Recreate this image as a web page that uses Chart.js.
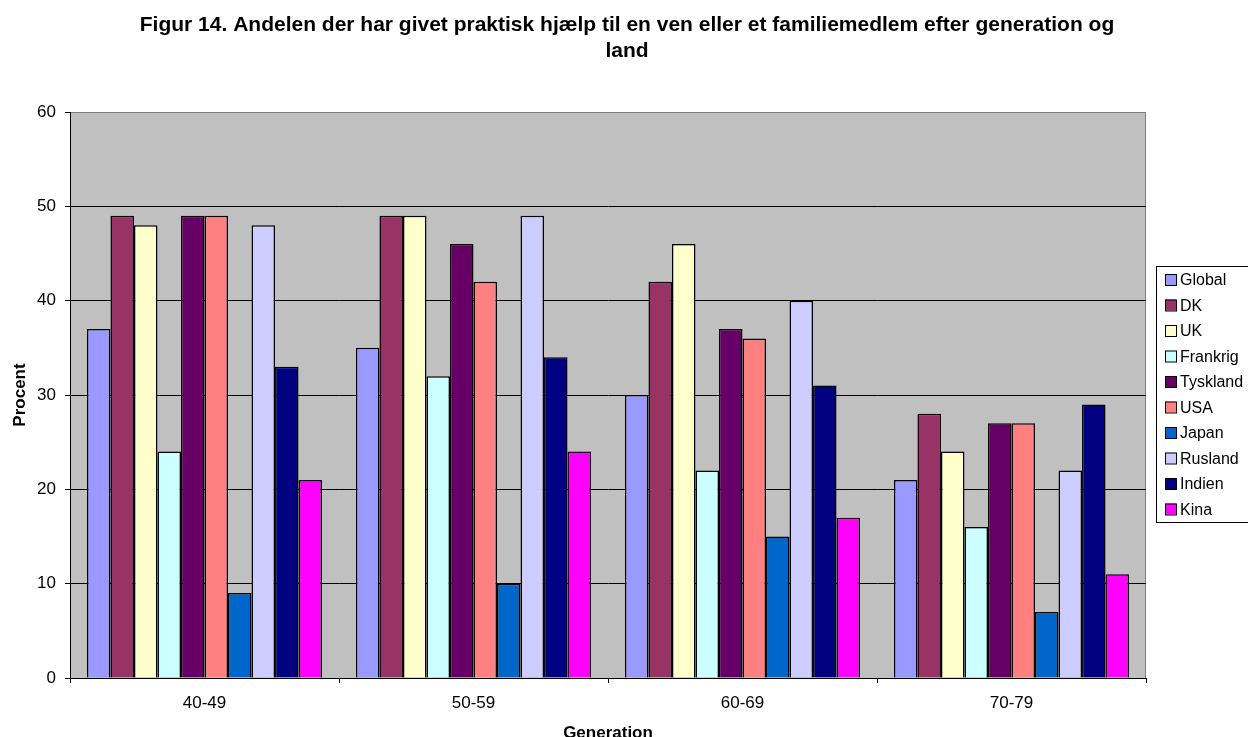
<!DOCTYPE html>
<html lang="da">
<head>
<meta charset="UTF-8">
<title>Figur 14</title>
<script src="https://cdn.jsdelivr.net/npm/chart.js"></script>
<style>
  html, body { margin: 0; padding: 0; background: #fff; }
  #wrap { width: 1248px; height: 737px; position: relative; }
</style>
</head>
<body>
<div id="wrap"><canvas id="chart"></canvas></div>
<script>
// data
const generationer = ['40-49', '50-59', '60-69', '70-79'];
const lande = ['Global', 'DK', 'UK', 'Frankrig', 'Tyskland', 'USA', 'Japan', 'Rusland', 'Indien', 'Kina'];
const farver = ['#9999FF', '#993366', '#FFFFCC', '#CCFFFF', '#660066', '#FF8080', '#0066CC', '#CCCCFF', '#000080', '#FF00FF'];
const global   = [37, 35, 30, 21];
const dk       = [49, 49, 42, 28];
const uk       = [48, 49, 46, 24];
const frankrig = [24, 32, 22, 16];
const tyskland = [49, 46, 37, 27];
const usa      = [49, 42, 36, 27];
const japan    = [9, 10, 15, 7];
const rusland  = [48, 49, 40, 22];
const indien   = [33, 34, 31, 29];
const kina     = [21, 24, 17, 11];
const yTicks   = [0, 10, 20, 30, 40, 50, 60];

const titelLinjer = ['Figur 14. Andelen der har givet praktisk hjælp til en ven eller et familiemedlem efter generation og', 'land'];
const xTitel = 'Generation';
const yTitel = 'Procent';

const serier = [global, dk, uk, frankrig, tyskland, usa, japan, rusland, indien, kina];
const font = 'Arial, "Liberation Sans", sans-serif';

// grå baggrund i plotområdet
const baggrund = {
  id: 'baggrund',
  beforeDraw(chart) {
    const { ctx, chartArea: a } = chart;
    ctx.save();
    ctx.fillStyle = '#C0C0C0';
    ctx.fillRect(a.left, a.top, a.right - a.left, a.bottom - a.top);
    ctx.strokeStyle = '#808080';
    ctx.lineWidth = 1;
    ctx.beginPath();
    ctx.moveTo(a.left, a.top + 0.5);
    ctx.lineTo(a.right - 0.5, a.top + 0.5);
    ctx.lineTo(a.right - 0.5, a.bottom);
    ctx.stroke();
    ctx.restore();
  }
};

// titler og legende tegnes selv for at ramme placeringen
const tekster = {
  id: 'tekster',
  afterDraw(chart) {
    const ctx = chart.ctx;
    const a = chart.chartArea;
    ctx.save();
    ctx.fillStyle = '#000';
    ctx.textAlign = 'center';
    ctx.textBaseline = 'alphabetic';
    ctx.font = 'bold 21px ' + font;
    titelLinjer.forEach((t, i) => ctx.fillText(t, 627, 31 + i * 26));

    // aksetitler
    ctx.font = 'bold 17px ' + font;
    ctx.fillText(xTitel, (a.left + a.right) / 2, 738);
    ctx.save();
    ctx.translate(25, (a.top + a.bottom) / 2);
    ctx.rotate(-Math.PI / 2);
    ctx.fillText(yTitel, 0, 0);
    ctx.restore();

    // legende
    const lx = 1156, ly = 266, lh = 25.5;
    ctx.fillStyle = '#fff';
    ctx.fillRect(lx, ly, 110, 256);
    ctx.strokeStyle = '#000';
    ctx.lineWidth = 1;
    ctx.strokeRect(lx + 0.5, ly + 0.5, 110, 256);
    ctx.font = '16px ' + font;
    ctx.textAlign = 'left';
    ctx.textBaseline = 'middle';
    lande.forEach((navn, i) => {
      const y = 280 + i * lh;
      ctx.fillStyle = farver[i];
      ctx.fillRect(lx + 9, y - 6, 11, 11);
      ctx.strokeStyle = '#000';
      ctx.strokeRect(lx + 9.5, y - 5.5, 11, 11);
      ctx.fillStyle = '#000';
      ctx.fillText(navn, lx + 24, y + 1);
    });
    ctx.restore();
  }
};

const datasets = lande.map((navn, i) => ({
  label: navn,
  data: serier[i],
  backgroundColor: farver[i],
  borderColor: '#000',
  borderWidth: 1.5,
  categoryPercentage: 0.874,
  barPercentage: 1
}));

new Chart(document.getElementById('chart'), {
  type: 'bar',
  data: { labels: generationer, datasets: datasets },
  options: {
    responsive: true,
    maintainAspectRatio: false,
    animation: false,
    layout: { padding: { left: 0, right: 102, top: 112, bottom: 0 } },
    plugins: {
      legend: { display: false },
      title: { display: false },
      tooltip: { enabled: false }
    },
    scales: {
      x: {
        afterFit(scale) { scale.height = 59; },
        grid: { display: true, drawOnChartArea: false, drawTicks: true, tickLength: 5, color: '#000', offset: true },
        border: { color: '#000' },
        ticks: { color: '#000', font: { family: font, size: 17 }, padding: 10 },
        title: { display: false }
      },
      y: {
        min: 0,
        max: 60,
        afterFit(scale) { scale.width = 70; },
        afterBuildTicks(scale) { scale.ticks = yTicks.map(v => ({ value: v })); },
        grid: {
          color: ctx => ctx.tick && ctx.tick.value === 60 ? '#808080' : '#000',
          tickLength: 5,
          tickColor: '#000'
        },
        border: { color: '#000' },
        ticks: { color: '#000', font: { family: font, size: 17 }, padding: 9 },
        title: { display: false }
      }
    }
  },
  plugins: [baggrund, tekster]
});
</script>
</body>
</html>
